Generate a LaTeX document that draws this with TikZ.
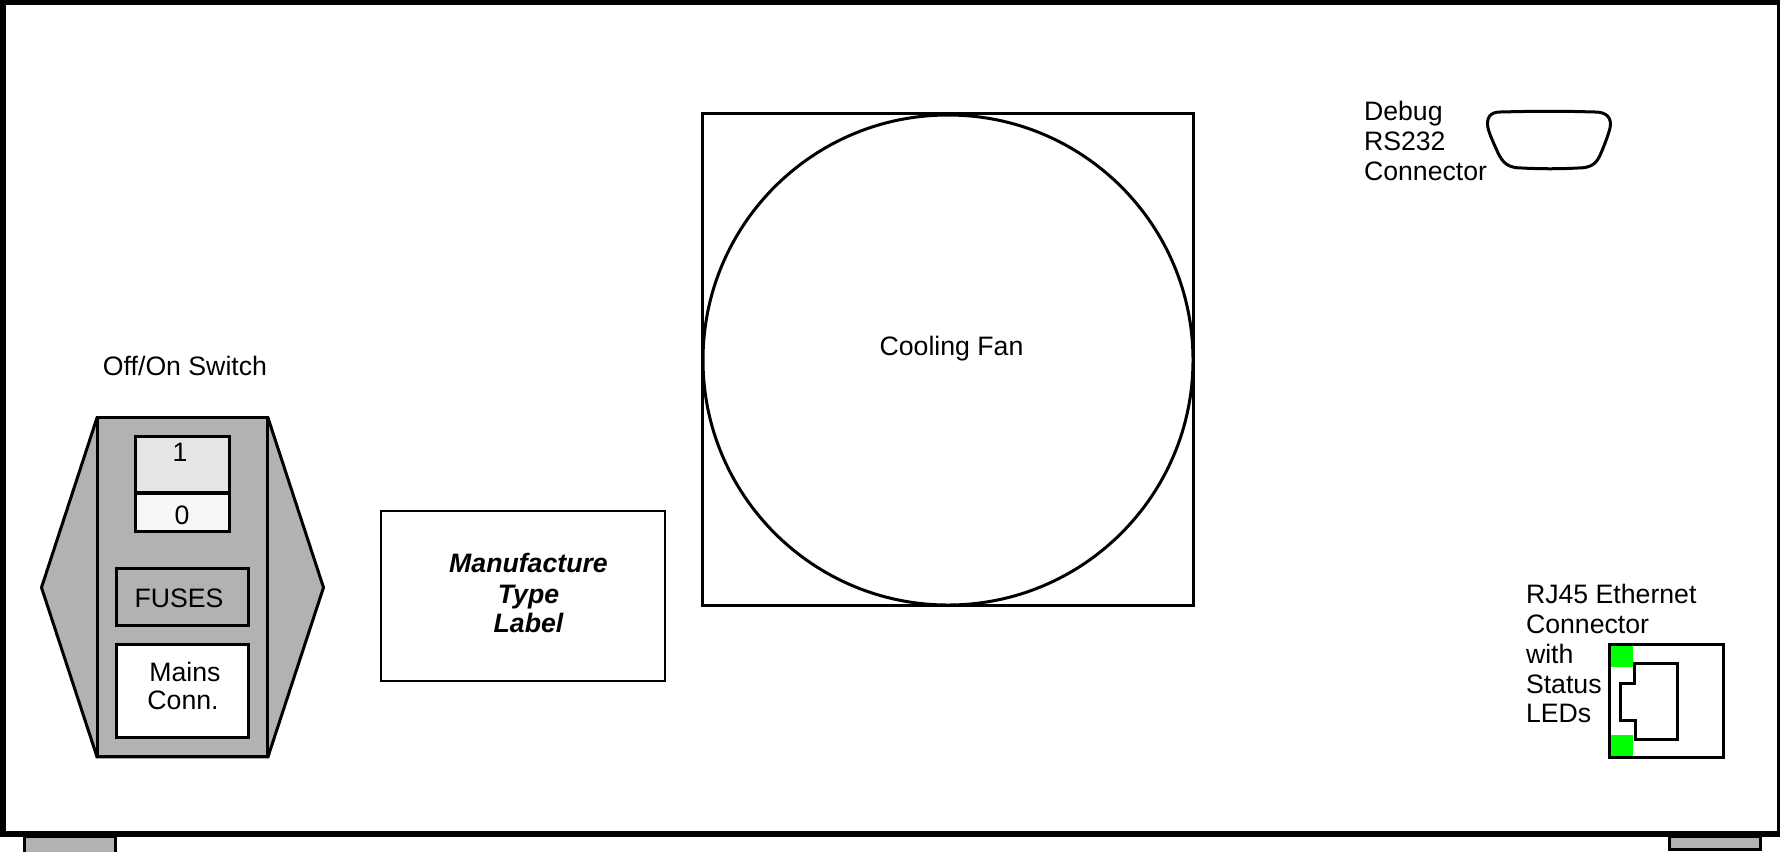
\documentclass[tikz,border=0pt]{standalone}
\usepackage{fontspec}
\setmainfont{Liberation Sans}
\definecolor{panel}{HTML}{B2B2B2}
\definecolor{swon}{HTML}{E5E5E5}
\definecolor{swoff}{HTML}{F7F7F7}
\definecolor{led}{HTML}{00FF00}
\tikzset{
  x=0.75pt,y=-0.75pt,
  ln/.style={draw=black,line width=2.25pt,line join=miter},
  box/.style={ln,inner sep=0pt,outer sep=0pt},
  txt/.style={inner sep=0pt,outer sep=0pt,font=\fontsize{20}{22}\selectfont,text=black},
  bold/.style={txt,font=\fontsize{20}{22}\selectfont\bfseries\itshape}
}
\begin{document}
\begin{tikzpicture}
\useasboundingbox (0,0) rectangle (1780,851);
\fill[white] (0,0) rectangle (1780,851);
% feet
\path[ln,fill=panel] (24.7,836) rectangle (115.5,856);
\path[ln,fill=panel] (1669.5,836) rectangle (1760.5,849.5);
% frame
\draw[black,line width=4.5pt] (3,2) rectangle (1780,834);
% switch
\path[ln,fill=panel] (97,417.8) -- (41.5,587.5) -- (97,756.8) -- (268,756.8) -- (323.5,587.5) -- (268,417.8) -- cycle;
\node[box,fill=panel,minimum width=127.5pt,minimum height=254.25pt] (body) at (182.5,587.3) {};
\node[box,fill=swon,minimum width=70pt,minimum height=42.4pt] (on) at (182.5,464.7) {};
\node[box,fill=swoff,minimum width=70pt,minimum height=28.5pt] (off) at (182.5,512) {};
\node[box,fill=panel,minimum width=99pt,minimum height=42.4pt] (fuses) at (182.5,597) {};
\node[box,fill=white,minimum width=99pt,minimum height=69.75pt] (mains) at (182.5,690.7) {};
\node[txt,anchor=base] (t1) at (180,461) {1};
\node[txt,anchor=base] (t0) at (182,524) {0};
\node[txt,anchor=base] (tf) at (179,607) {FUSES};
\node[txt,anchor=base] (tm) at (185,681) {Mains};
\node[txt,anchor=base] (tc) at (183,709) {Conn.};
\node[txt,anchor=base] (sw) at (185,375) {Off/On Switch};
% label
\node[draw=black,line width=1.5pt,inner sep=0pt,minimum width=213pt,minimum height=127.5pt] (lbl) at (523,596) {};
\node[bold,anchor=base] (l1) at (528.5,572.5) {Manufacture};
\node[bold,anchor=base] (l2) at (528.5,603) {Type};
\node[bold,anchor=base] (l3) at (528.5,632) {Label};
% fan
\draw[ln] (702.5,113.5) rectangle (1193.5,605.5);
\node[ln,circle,inner sep=0pt,minimum size=367.5pt] (fancircle) at (948,360) {};
\node[txt,anchor=base] (fan) at (951.5,355) {Cooling Fan};
% debug
\path[ln,line join=round]
 (1500,112) .. controls (1540,111) and (1560,111) .. (1595,112)
 .. controls (1607,112) and (1612,118) .. (1610,128)
 .. controls (1608,136) and (1604,146) .. (1601,153)
 .. controls (1597,163) and (1592,168) .. (1578,168)
 .. controls (1560,169) and (1540,169) .. (1522,168)
 .. controls (1508,168) and (1503,163) .. (1498,153)
 .. controls (1495,146) and (1490,136) .. (1488,128)
 .. controls (1486,118) and (1490,112) .. (1500,112) -- cycle;
\node[txt,anchor=base west] (d1) at (1364,120) {Debug};
\node[txt,anchor=base west] (d2) at (1364,150) {RS232};
\node[txt,anchor=base west] (d3) at (1364,180) {Connector};
% rj45
\path[ln,fill=white] (1609.5,644.5) rectangle (1723.5,757);
\fill[led] (1611,646) rectangle (1633,667);
\fill[led] (1611,735) rectangle (1633,756);
\path[ln] (1634,663.5) -- (1677.5,663.5) -- (1677.5,739) -- (1635,739) -- (1635,720) -- (1620,720) -- (1620,683) -- (1634,683) -- cycle;
\node[txt,anchor=base west] (r1) at (1526,603) {RJ45 Ethernet};
\node[txt,anchor=base west] (r2) at (1526,633) {Connector};
\node[txt,anchor=base west] (r3) at (1526,663) {with};
\node[txt,anchor=base west] (r4) at (1526,693) {Status};
\node[txt,anchor=base west] (r5) at (1526,722) {LEDs};
\end{tikzpicture}
\end{document}
